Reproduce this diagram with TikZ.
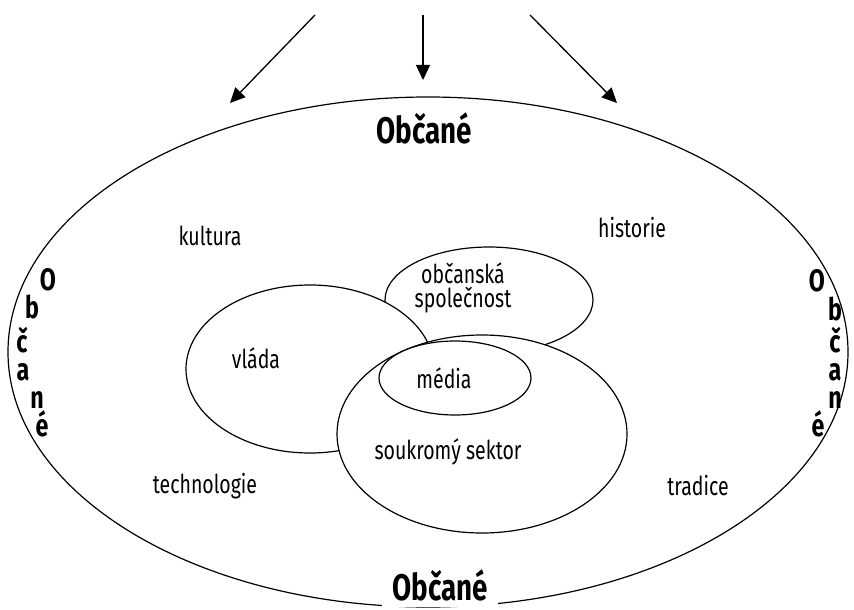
\documentclass[tikz,border=0pt]{standalone}
\usepackage{fontspec}
\setmainfont{Fira Sans}[FakeStretch=0.75]
\usetikzlibrary{shapes.geometric,arrows.meta}
\tikzset{
  region/.style={draw, ellipse, fill=white, line width=1.2pt, inner sep=0pt},
  lbl/.style={font=\fontsize{26}{27}\selectfont, inner sep=0pt, align=center},
  big/.style={font=\bfseries\fontsize{37}{38}\selectfont, inner sep=0pt},
  letter/.style={font=\bfseries\fontsize{31}{32}\selectfont, inner sep=0pt, text height=0.6em, text depth=0pt},
  arr/.style={line width=1.3pt, -{Triangle[length=15pt,width=14pt]}}
}
\begin{document}
\begin{tikzpicture}[x=1pt,y=-1pt]
\useasboundingbox (0,0) rectangle (854,610);
% outer ellipse
\node[region, minimum width=840pt, minimum height=510pt] (outer) at (428,352) {};
% arrows
\coordinate (s1) at (315,15); \coordinate (t1) at (230,103);
\coordinate (s2) at (423,15); \coordinate (t2) at (423,80);
\coordinate (s3) at (530,15); \coordinate (t3) at (617,103);
\draw[arr] (s1) -- (t1);
\draw[arr] (s2) -- (t2);
\draw[arr] (s3) -- (t3);
% inner regions, back to front
\node[region, minimum width=208pt, minimum height=106pt] (civil) at (489,300) {};
\node[region, minimum width=248pt, minimum height=168pt] (gov) at (310,369) {};
\node[region, minimum width=290pt, minimum height=198pt] (priv) at (482,434) {};
\node[region, minimum width=152pt, minimum height=74pt] (media) at (455,378) {};
% labels
\node[lbl] (civiltxt) at (463,288) {občanská\\[-3pt]společnost};
\node[lbl] (govtxt) at (256,358) {vláda};
\node[lbl] (mediatxt) at (444,378) {média};
\node[lbl] (privtxt) at (448,452) {soukromý sektor};
\node[lbl] (kultura) at (210,236) {kultura};
\node[lbl] (historie) at (632,228) {historie};
\node[lbl] (technologie) at (205,486) {technologie};
\node[lbl] (tradice) at (698,486) {tradice};
\node[big] (toptxt) at (424,128) {Občané};
\node[big, fill=white, anchor=base, text depth=7pt, inner xsep=10pt] (bottxt) at (440,600) {Občané};
% left vertical
\node[letter] (l1) at (48,287) {O};
\node[letter] (l2) at (32,315) {b};
\node[letter] (l3) at (22,349) {č};
\node[letter] (l4) at (23,377) {a};
\node[letter] (l5) at (37,405) {n};
\node[letter] (l6) at (42,433) {é};
% right vertical
\node[letter] (r1) at (817,288) {O};
\node[letter] (r2) at (835,317) {b};
\node[letter] (r3) at (835,349) {č};
\node[letter] (r4) at (835,377) {a};
\node[letter] (r5) at (835,405) {n};
\node[letter] (r6) at (818,433) {é};
\end{tikzpicture}
\end{document}
